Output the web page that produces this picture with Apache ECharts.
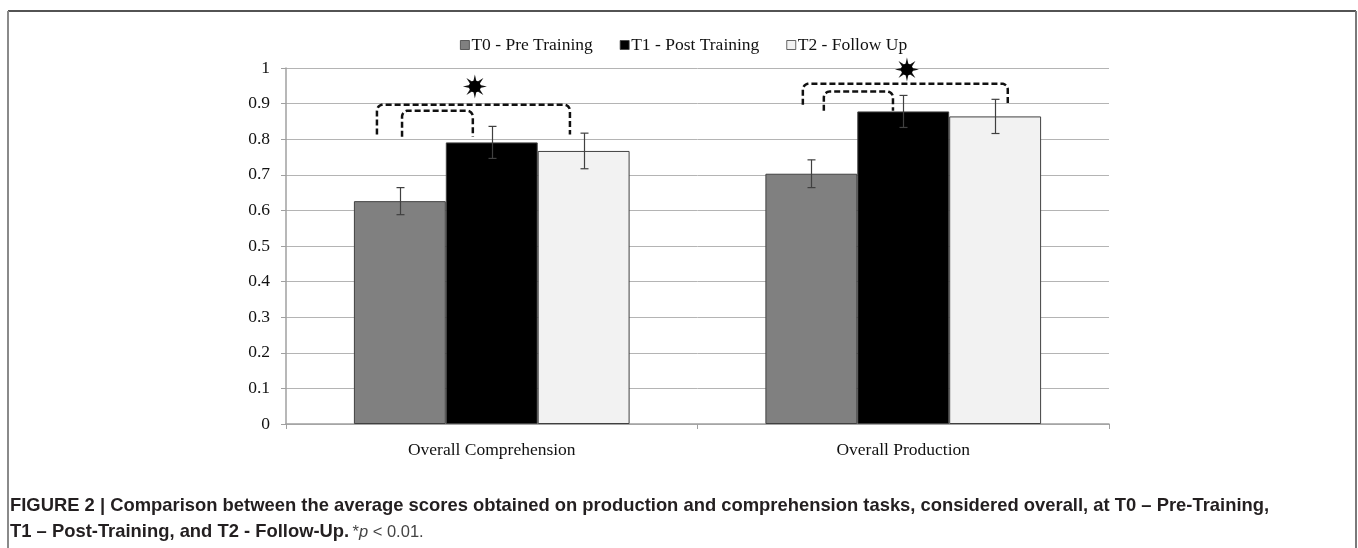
<!DOCTYPE html>
<html>
<head>
<meta charset="utf-8">
<script src="https://cdn.jsdelivr.net/npm/echarts@6/dist/echarts.min.js"></script>
<style>
html,body{margin:0;padding:0;background:#fff;}
#main{width:1358px;height:548px;}
</style>
</head>
<body>
<div id="main"></div>
<script>
const categories = ['Overall Comprehension', 'Overall Production'];
const seriesNames = ['T0 - Pre Training', 'T1 - Post Training', 'T2 - Follow Up'];
const t0Values = [0.626, 0.703];
const t1Values = [0.791, 0.878];
const t2Values = [0.767, 0.864];
const t0Errors = [0.038, 0.039];
const t1Errors = [0.045, 0.045];
const t2Errors = [0.050, 0.048];
const seriesColors = ['#808080', '#000000', '#f2f2f2'];
// significance brackets (x in category-band units, y in score units)
const bracketLeftX = [0.221, 0.282, 1.256, 1.307];
const bracketRightX = [0.690, 0.454, 1.754, 1.475];
const bracketTopY = [0.897, 0.880, 0.956, 0.934];
const bracketBottomY = [0.813, 0.807, 0.897, 0.880];
const starX = [0.459, 1.509];
const starY = [0.948, 0.996];

const valuesBySeries = [t0Values, t1Values, t2Values];
const errorsBySeries = [t0Errors, t1Errors, t2Errors];
const CAT_GAP = 0.33;

const errorData = [];
valuesBySeries.forEach((vals, s) => {
  vals.forEach((v, ci) => errorData.push([ci, v, errorsBySeries[s][ci], s]));
});
const bracketData = bracketLeftX.map((x, i) => [x, bracketRightX[i], bracketTopY[i], bracketBottomY[i]]);
const starData = starX.map((x, i) => [x, starY[i]]);

const serif = 'Liberation Serif';
const chart = echarts.init(document.getElementById('main'), null, {renderer: 'canvas'});

const barSeries = seriesNames.map((name, s) => ({
  name: name,
  type: 'bar',
  xAxisIndex: 0,
  yAxisIndex: 0,
  data: valuesBySeries[s],
  barGap: '0%',
  barCategoryGap: (CAT_GAP * 100) + '%',
  itemStyle: {color: seriesColors[s], borderColor: '#404040', borderWidth: 1},
  emphasis: {disabled: true},
  silent: true
}));

const option = {
  animation: false,
  backgroundColor: '#ffffff',
  legend: {
    data: seriesNames,
    top: 31,
    left: 455,
    itemWidth: 9,
    itemHeight: 9,
    itemGap: 27,
    icon: 'rect',
    itemStyle: {borderWidth: 0.8},
    textStyle: {fontFamily: serif, fontSize: 17.5, color: '#111', padding: [0, 0, 0, -3]},
    selectedMode: false
  },
  grid: {left: 286, right: 249, top: 68, bottom: 124, containLabel: false},
  xAxis: [{
    type: 'category',
    data: categories,
    boundaryGap: true,
    axisLine: {lineStyle: {color: '#a0a0a0', width: 1.5}},
    axisTick: {show: true, length: 5, lineStyle: {color: '#a0a0a0'}},
    axisLabel: {fontFamily: serif, fontSize: 17.5, color: '#111', margin: 17}
  }, {
    type: 'value',
    min: 0,
    max: 2,
    show: false
  }],
  yAxis: {
    type: 'value',
    min: 0,
    max: 1,
    interval: 0.1,
    axisLine: {show: true, lineStyle: {color: '#a0a0a0', width: 1.5}},
    axisTick: {show: true, length: 5, lineStyle: {color: '#a0a0a0'}},
    axisLabel: {fontFamily: serif, fontSize: 17.5, color: '#111', margin: 16},
    splitLine: {lineStyle: {color: '#b4b4b4', width: 1}}
  },
  series: barSeries.concat([
    {
      type: 'custom',
      xAxisIndex: 0,
      yAxisIndex: 0,
      data: errorData,
      silent: true,
      z: 5,
      renderItem: function (params, api) {
        const ci = api.value(0), v = api.value(1), e = api.value(2), s = api.value(3);
        const c = api.coord([ci, v]);
        const band = api.size([1, 0])[0];
        const barW = band * (1 - CAT_GAP) / 3;
        const x = Math.round(c[0] + (s - 1) * barW) + 0.5;
        const top = api.coord([ci, v + e])[1];
        const bot = api.coord([ci, v - e])[1];
        const cap = 4;
        const st = {stroke: '#404040', lineWidth: 1.2};
        return {type: 'group', children: [
          {type: 'line', shape: {x1: x, y1: top, x2: x, y2: bot}, style: st},
          {type: 'line', shape: {x1: x - cap, y1: top, x2: x + cap, y2: top}, style: st},
          {type: 'line', shape: {x1: x - cap, y1: bot, x2: x + cap, y2: bot}, style: st}
        ]};
      }
    },
    {
      type: 'custom',
      xAxisIndex: 1,
      yAxisIndex: 0,
      data: bracketData,
      silent: true,
      clip: false,
      z: 6,
      renderItem: function (params, api) {
        const pl = api.coord([api.value(0), api.value(2)]);
        const pr = api.coord([api.value(1), api.value(2)]);
        const yb = api.coord([api.value(0), api.value(3)])[1];
        const xl = pl[0], xr = pr[0], yt = pl[1];
        const r = 6;
        const pts = [[xl, yb]];
        const n = 8;
        for (let k = 0; k <= n; k++) {
          const a = Math.PI + (Math.PI / 2) * k / n;
          pts.push([xl + r + r * Math.cos(a), yt + r + r * Math.sin(a)]);
        }
        for (let k = 0; k <= n; k++) {
          const a = 1.5 * Math.PI + (Math.PI / 2) * k / n;
          pts.push([xr - r + r * Math.cos(a), yt + r + r * Math.sin(a)]);
        }
        pts.push([xr, yb]);
        return {type: 'polyline', shape: {points: pts},
          style: {stroke: '#111', lineWidth: 2.5, lineDash: [6, 3], fill: null}};
      }
    },
    {
      type: 'custom',
      xAxisIndex: 1,
      yAxisIndex: 0,
      data: starData,
      silent: true,
      clip: false,
      z: 7,
      renderItem: function (params, api) {
        const c = api.coord([api.value(0), api.value(1)]);
        const pts = [];
        const rays = 8, R = 12, ri = 4.5;
        for (let k = 0; k < rays * 2; k++) {
          const a = -Math.PI / 2 + Math.PI * k / rays;
          const rr = k % 2 === 0 ? R : ri;
          pts.push([c[0] + rr * Math.cos(a), c[1] + rr * Math.sin(a)]);
        }
        return {type: 'group', children: [
          {type: 'polygon', shape: {points: pts}, style: {fill: '#111'}},
          {type: 'circle', shape: {cx: c[0], cy: c[1], r: 6}, style: {fill: '#000'}}
        ]};
      }
    }
  ]),
  graphic: [
    {type: 'line', shape: {x1: 8, y1: 11, x2: 1356, y2: 11}, style: {stroke: '#1a1a1a', lineWidth: 1.5}},
    {type: 'line', shape: {x1: 8, y1: 11, x2: 8, y2: 548}, style: {stroke: '#8a8a8a', lineWidth: 2}},
    {type: 'line', shape: {x1: 1356, y1: 11, x2: 1356, y2: 548}, style: {stroke: '#7a7a7a', lineWidth: 2}},
    {type: 'text', left: 10, top: 497, style: {
      text: 'FIGURE 2 | Comparison between the average scores obtained on production and comprehension tasks, considered overall, at T0 \u2013 Pre-Training,',
      font: 'bold 18.4px "Liberation Sans"', fill: '#231f20'}},
    {type: 'text', left: 10, top: 523, style: {
      text: '{b|T1 \u2013 Post-Training, and T2 - Follow-Up.} {n|*}{i|p}{n| < 0.01.}',
      rich: {
        b: {font: 'bold 18.4px "Liberation Sans"', fill: '#231f20'},
        n: {font: '16.5px "Liberation Sans"', fill: '#444'},
        i: {font: 'italic 16.5px "Liberation Sans"', fill: '#444'}
      }}}
  ]
};
chart.setOption(option);
</script>
</body>
</html>
